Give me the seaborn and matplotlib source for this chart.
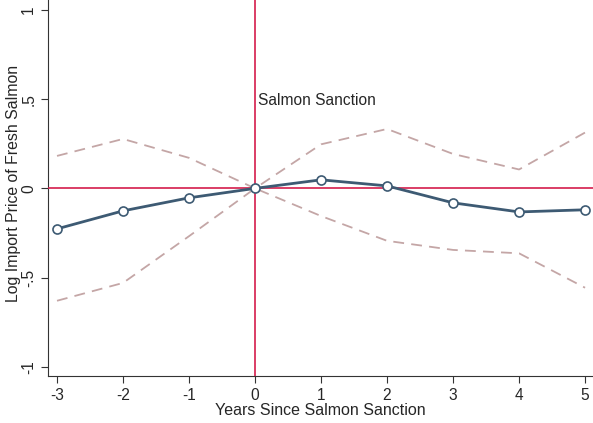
import numpy as np
import pandas as pd
import matplotlib
matplotlib.use("Agg")
import matplotlib.pyplot as plt
import seaborn as sns

years = [-3, -2, -1, 0, 1, 2, 3, 4, 5]
estimate = [-0.227, -0.126, -0.053, 0.0, 0.048, 0.014, -0.081, -0.132, -0.120]
upper_ci = [0.182, 0.277, 0.171, 0.0, 0.247, 0.333, 0.193, 0.106, 0.313]
lower_ci = [-0.630, -0.530, -0.268, 0.0, -0.155, -0.294, -0.345, -0.364, -0.557]
y_ticks = [-1, -0.5, 0, 0.5, 1]
y_tick_labels = ["-1", "-.5", "0", ".5", "1"]

df = pd.DataFrame({"year": years, "est": estimate, "hi": upper_ci, "lo": lower_ci})

sns.set_style("ticks")
plt.rcParams["font.family"] = ["Liberation Sans", "DejaVu Sans"]

fig = plt.figure(figsize=(5.93, 4.23), dpi=100)
ax = fig.add_axes([0.081, 0.111, 0.919, 0.889])

ci_col = "#c4a6a6"
red = "#d41c4c"
navy = "#3d5a73"

sns.lineplot(data=df, x="year", y="hi", ax=ax, color=ci_col, lw=1.3, dashes=False)
sns.lineplot(data=df, x="year", y="lo", ax=ax, color=ci_col, lw=1.3, dashes=False)
for l in ax.lines:
    l.set_linestyle((0, (6, 4)))

ax.axhline(0, color=red, lw=1.2, zorder=3)
ax.axvline(0, color=red, lw=1.2, zorder=3)

sns.lineplot(data=df, x="year", y="est", ax=ax, color=navy, lw=2,
             marker="o", markersize=6.5, markerfacecolor="white",
             markeredgecolor=navy, markeredgewidth=1.2, zorder=4)

ax.text(0.04, 0.495, "Salmon Sanction", fontsize=11.2, va="center", ha="left")

ax.set_xlim(-3.136, 5.12)
ax.set_ylim(-1.052, 1.056)
ax.set_xticks(years)
ax.set_xticklabels([str(y) for y in years])
ax.set_yticks(y_ticks)
ax.set_yticklabels(y_tick_labels, rotation=90, va="center")
ax.tick_params(axis="both", labelsize=11.2, length=5, width=0.8, color="#333333")
ax.set_xlabel("Years Since Salmon Sanction", fontsize=11.5, labelpad=0)
ax.set_ylabel("Log Import Price of Fresh Salmon", fontsize=11.4)
ax.yaxis.set_label_coords(-0.049, 0.512)
sns.despine(ax=ax)
for s in ["left", "bottom"]:
    ax.spines[s].set_linewidth(0.8)
    ax.spines[s].set_color("#333333")

fig.savefig("out.png", dpi=100)
